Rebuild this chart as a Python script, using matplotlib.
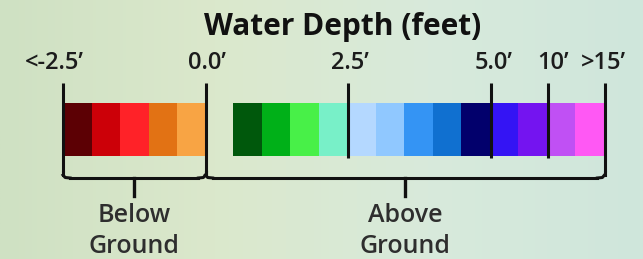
import matplotlib
matplotlib.use("Agg")
import matplotlib.pyplot as plt
import numpy as np
from matplotlib.colors import LinearSegmentedColormap
from matplotlib.patches import Rectangle

# ---- data ----
below_colors = ["#5c0004", "#cc0008", "#ff2228", "#e27214", "#f8a444"]
above_colors = ["#00580c", "#00b018", "#48f048", "#78f0c8",
                "#b4d8ff", "#90c8ff", "#3494f4", "#1070d0", "#02006c",
                "#3414f4", "#7414f0", "#c050f4", "#ff58f4"]
tick_labels = ["<-2.5\u2019", "0.0\u2019", "2.5\u2019", "5.0\u2019", "10\u2019", ">15\u2019"]
# tick positions in segment-index units (below segments 0-4, one-slot gap, above 6-18)
tick_pos = [0, 5, 10, 15, 17, 19]
group_labels = ["Below\nGround", "Above\nGround"]
title = "Water Depth (feet)"

W, H = 643, 259
fig = plt.figure(figsize=(W / 100, H / 100), dpi=100)
ax = fig.add_axes([0, 0, 1, 1])
unit = 28.5
x0 = 63
ax.set_xlim(-x0 / unit, (W - x0) / unit)
ax.set_ylim(H, 0)
ax.axis("off")

# background gradient
bg = LinearSegmentedColormap.from_list("bg", ["#cfe1c3", "#dbe8cc", "#d8eadb", "#cfe6dc"])
grad = np.linspace(0, 1, 256)[None, :]
ax.imshow(grad, cmap=bg, aspect="auto", extent=(-x0 / unit, (W - x0) / unit, H, 0), zorder=0)

bar_top, bar_bot = 103, 156
fam = ["Open Sans", "DejaVu Sans"]

# bar segments
for i, c in enumerate(below_colors):
    ax.add_patch(Rectangle((i, bar_top), 1, bar_bot - bar_top, color=c, lw=0, zorder=2))
start = len(below_colors) + 1
for i, c in enumerate(above_colors):
    ax.add_patch(Rectangle((start + i - 0.02, bar_top), 1.02, bar_bot - bar_top, color=c, lw=0, zorder=2))

# ticks
lc = "#111111"
for p, lab in zip(tick_pos, tick_labels):
    if p in (tick_pos[0], tick_pos[1], tick_pos[-1]):
        ax.plot([p, p], [83, 172], color=lc, lw=2.2, zorder=3, solid_capstyle="butt")
    else:
        ax.plot([p, p], [83, 158], color=lc, lw=2.2, zorder=3, solid_capstyle="butt")

label_dx = [-0.3, 0.05, 0.05, 0.1, 0.2, -0.05]
for p, lab, d in zip(tick_pos, tick_labels, label_dx):
    ax.text(p + d, 63, lab, ha="center", va="center", fontsize=17,
            family=fam, fontweight="semibold", color="#1c1c1c", zorder=4)

# brackets
ybr = 178
r = 0.25
def bracket(a, b):
    ax.plot([a, a], [172, ybr - 3], color=lc, lw=2.2, zorder=3)
    ax.plot([a, a + r * 0.3, a + r], [ybr - 3, ybr - 0.5, ybr], color=lc, lw=2.2, zorder=3)
    ax.plot([a + r, b - r], [ybr, ybr], color=lc, lw=2.2, zorder=3)
    ax.plot([b - r, b - r * 0.3, b], [ybr, ybr - 0.5, ybr - 3], color=lc, lw=2.2, zorder=3)
    ax.plot([b, b], [172, ybr - 3], color=lc, lw=2.2, zorder=3)
    m = (a + b) / 2
    ax.plot([m, m], [ybr, 196], color=lc, lw=2.4, zorder=3)
    return m

m1 = bracket(tick_pos[0], tick_pos[1])
m2 = bracket(tick_pos[1], tick_pos[-1])
for m, lab in zip([m1, m2], group_labels):
    ax.text(m, 231, lab, ha="center", va="center", fontsize=18, family=fam,
            fontweight="semibold", color="#2e2e2e", linespacing=1.35, zorder=4)

ax.text((tick_pos[0] + tick_pos[-1]) / 2 + 0.3, 27, title, ha="center", va="center",
        fontsize=21.5, fontweight="bold", family=fam, color="#111111", zorder=4)

fig.savefig("out.png", dpi=100)
